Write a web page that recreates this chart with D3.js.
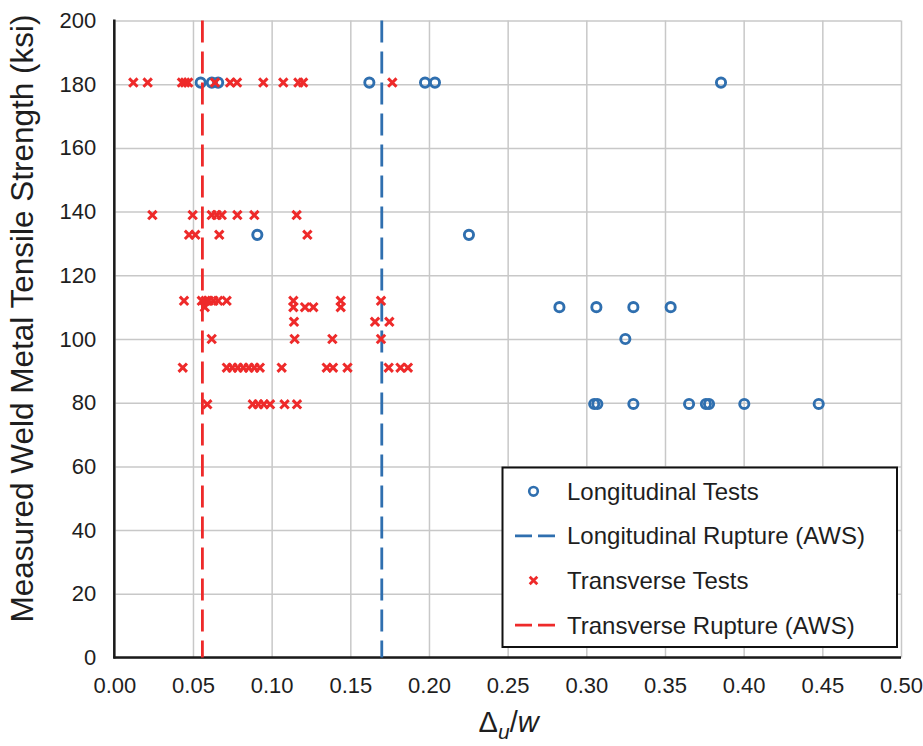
<!DOCTYPE html>
<html>
<head>
<meta charset="utf-8">
<script src="https://cdn.jsdelivr.net/npm/d3@7"></script>
<style>
  html, body { margin: 0; padding: 0; background: #fff; }
  svg { display: block; font-family: "Liberation Sans", Arial, sans-serif; }
</style>
</head>
<body>
<svg id="chart" width="923" height="746"></svg>
<script>
// Longitudinal weld tests: deformation ratio and measured weld strength (ksi)
const longitudinalDelta = [0.0549, 0.062, 0.066, 0.1621, 0.1975, 0.2038, 0.3856,
  0.0909, 0.2254,
  0.2829, 0.3064, 0.3299, 0.3536,
  0.3248,
  0.305, 0.307, 0.3299, 0.3653, 0.376, 0.378, 0.4004, 0.4477];
const longitudinalStrength = [180.5, 180.5, 180.5, 180.5, 180.5, 180.5, 180.5,
  132.7, 132.7,
  110, 110, 110, 110,
  100,
  79.6, 79.6, 79.6, 79.6, 79.6, 79.6, 79.6, 79.6];

// Transverse weld tests
const transverseDelta = [
  0.0121, 0.0212, 0.043, 0.045, 0.047, 0.064, 0.0736, 0.078, 0.0947, 0.1074, 0.117, 0.120, 0.1767,
  0.0242, 0.0498, 0.0619, 0.0651, 0.0683, 0.0782, 0.0890, 0.1159,
  0.0475, 0.0515, 0.0667, 0.1227,
  0.0443, 0.0556, 0.058, 0.060, 0.063, 0.066, 0.0714, 0.1138, 0.1439, 0.1695,
  0.0575, 0.1138, 0.1212, 0.1265, 0.1439,
  0.1142, 0.1657, 0.1748,
  0.0619, 0.1146, 0.1386, 0.1695,
  0.0435, 0.0715, 0.0750, 0.0785, 0.0820, 0.0855, 0.0890, 0.0925, 0.1064, 0.1350, 0.1390, 0.1482, 0.1744, 0.1819, 0.1866,
  0.0591, 0.0880, 0.0915, 0.0950, 0.0990, 0.1082, 0.1161];
const transverseStrength = [
  180.5, 180.5, 180.5, 180.5, 180.5, 180.5, 180.5, 180.5, 180.5, 180.5, 180.5, 180.5, 180.5,
  138.9, 138.9, 138.9, 138.9, 138.9, 138.9, 138.9, 138.9,
  132.7, 132.7, 132.7, 132.7,
  112, 112, 112, 112, 112, 112, 112, 112, 112, 112,
  110, 110, 110, 110, 110,
  105.4, 105.4, 105.4,
  100, 100, 100, 100,
  91, 91, 91, 91, 91, 91, 91, 91, 91, 91, 91, 91, 91, 91, 91,
  79.5, 79.5, 79.5, 79.5, 79.5, 79.5, 79.5];

// AWS rupture deformation limits
const longitudinalRupture = 0.17;
const transverseRupture = 0.056;

const xTicks = [0, 0.05, 0.10, 0.15, 0.20, 0.25, 0.30, 0.35, 0.40, 0.45, 0.50];
const yTicks = [0, 20, 40, 60, 80, 100, 120, 140, 160, 180, 200];

const blue = "#2F6FAF";
const red = "#EE2A2A";
const grid = "#C8C8C8";

const svg = d3.select("#chart");
const plotLeft = 114.3, plotRight = 901, plotTop = 20.5, plotBottom = 657.5;

const x = d3.scaleLinear().domain([0, 0.5]).range([plotLeft, plotRight]);
const y = d3.scaleLinear().domain([0, 200]).range([plotBottom, plotTop]);

// Gridlines
svg.append("g")
  .attr("transform", `translate(0,${plotBottom})`)
  .call(d3.axisBottom(x).tickValues(xTicks).tickSize(-(plotBottom - plotTop)).tickFormat(""))
  .call(g => g.select(".domain").remove())
  .call(g => g.selectAll("line").attr("stroke", grid).attr("stroke-width", 1.5));
svg.append("g")
  .attr("transform", `translate(${plotLeft},0)`)
  .call(d3.axisLeft(y).tickValues(yTicks).tickSize(-(plotRight - plotLeft)).tickFormat(""))
  .call(g => g.select(".domain").remove())
  .call(g => g.selectAll("line").attr("stroke", grid).attr("stroke-width", 1.5));

// Tick labels
svg.append("g")
  .attr("transform", `translate(0,${plotBottom})`)
  .call(d3.axisBottom(x).tickValues(xTicks).tickSize(0).tickPadding(20).tickFormat(d3.format(".2f")))
  .call(g => g.select(".domain").remove())
  .call(g => g.selectAll("text").attr("font-size", 22).attr("fill", "#1e1e1e")
    .attr("font-family", "'Liberation Sans', Arial, sans-serif"));
svg.append("g")
  .attr("transform", `translate(${plotLeft},0)`)
  .call(d3.axisLeft(y).tickValues(yTicks).tickSize(0).tickPadding(18).tickFormat(d3.format("d")))
  .call(g => g.select(".domain").remove())
  .call(g => g.selectAll("text").attr("font-size", 22).attr("fill", "#1e1e1e")
    .attr("font-family", "'Liberation Sans', Arial, sans-serif"));

// Axis lines
svg.append("line").attr("x1", plotLeft).attr("x2", plotLeft).attr("y1", plotTop - 1).attr("y2", plotBottom + 1)
  .attr("stroke", "#1a1a1a").attr("stroke-width", 2.5);
svg.append("line").attr("x1", plotLeft - 1).attr("x2", plotRight).attr("y1", plotBottom).attr("y2", plotBottom)
  .attr("stroke", "#1a1a1a").attr("stroke-width", 2.5);

const plot = svg.append("g");

// Longitudinal test markers
plot.selectAll("circle.long")
  .data(d3.zip(longitudinalDelta, longitudinalStrength))
  .join("circle")
  .attr("class", "long")
  .attr("cx", d => x(d[0])).attr("cy", d => y(d[1]))
  .attr("r", 4.6)
  .attr("fill", "none").attr("stroke", blue).attr("stroke-width", 2.9);

// Longitudinal rupture limit
plot.append("line")
  .attr("x1", x(longitudinalRupture)).attr("x2", x(longitudinalRupture))
  .attr("y1", plotTop).attr("y2", plotBottom)
  .attr("stroke", blue).attr("stroke-width", 2.8).attr("stroke-dasharray", "22,9");

// Transverse test markers
const cross = (s) => `M${-s},${-s}L${s},${s}M${-s},${s}L${s},${-s}`;
plot.selectAll("path.trans")
  .data(d3.zip(transverseDelta, transverseStrength))
  .join("path")
  .attr("class", "trans")
  .attr("transform", d => `translate(${x(d[0])},${y(d[1])})`)
  .attr("d", cross(4.2))
  .attr("fill", "none").attr("stroke", red).attr("stroke-width", 3);

// Transverse rupture limit
plot.append("line")
  .attr("x1", x(transverseRupture)).attr("x2", x(transverseRupture))
  .attr("y1", plotTop).attr("y2", plotBottom)
  .attr("stroke", red).attr("stroke-width", 2.8).attr("stroke-dasharray", "22,9");

// Axis titles
svg.append("text")
  .attr("transform", "translate(33,318.5) rotate(-90)")
  .attr("text-anchor", "middle")
  .attr("font-size", 31.5).attr("fill", "#1e1e1e")
  .text("Measured Weld Metal Tensile Strength (ksi)");

const xt = svg.append("text")
  .attr("x", (plotLeft + plotRight) / 2 + 1).attr("y", 732)
  .attr("text-anchor", "middle")
  .attr("font-size", 29).attr("fill", "#1e1e1e");
xt.append("tspan").text("Δ");
xt.append("tspan").attr("font-style", "italic").attr("font-size", 21).attr("dy", 7).text("u");
xt.append("tspan").attr("dy", -7).text("/");
xt.append("tspan").attr("font-style", "italic").text("w");

// Legend
const legendItems = [
  { label: "Longitudinal Tests", kind: "circle", color: blue },
  { label: "Longitudinal Rupture (AWS)", kind: "line", color: blue },
  { label: "Transverse Tests", kind: "cross", color: red },
  { label: "Transverse Rupture (AWS)", kind: "line", color: red }
];
const lg = svg.append("g");
lg.append("rect")
  .attr("x", 502.5).attr("y", 467.5).attr("width", 394.5).attr("height", 179.5)
  .attr("fill", "#fff").attr("stroke", "#111").attr("stroke-width", 2);
const rows = lg.selectAll("g.item").data(legendItems).join("g")
  .attr("class", "item")
  .attr("transform", (d, i) => `translate(0,${491.3 + i * 44.6})`);
rows.each(function(d) {
  const g = d3.select(this);
  if (d.kind === "circle") {
    g.append("circle").attr("cx", 533.5).attr("cy", 0).attr("r", 4.3)
      .attr("fill", "none").attr("stroke", d.color).attr("stroke-width", 2.6);
  } else if (d.kind === "cross") {
    g.append("path").attr("transform", "translate(533.5,0)").attr("d", cross(3.8))
      .attr("fill", "none").attr("stroke", d.color).attr("stroke-width", 2.8);
  } else {
    g.append("line").attr("x1", 515).attr("x2", 556).attr("y1", 0).attr("y2", 0)
      .attr("stroke", d.color).attr("stroke-width", 2.8).attr("stroke-dasharray", "17,6");
  }
  g.append("text").attr("x", 567).attr("y", 0).attr("dy", "0.35em")
    .attr("font-size", 24).attr("fill", "#1e1e1e").text(d.label);
});
</script>
</body>
</html>
